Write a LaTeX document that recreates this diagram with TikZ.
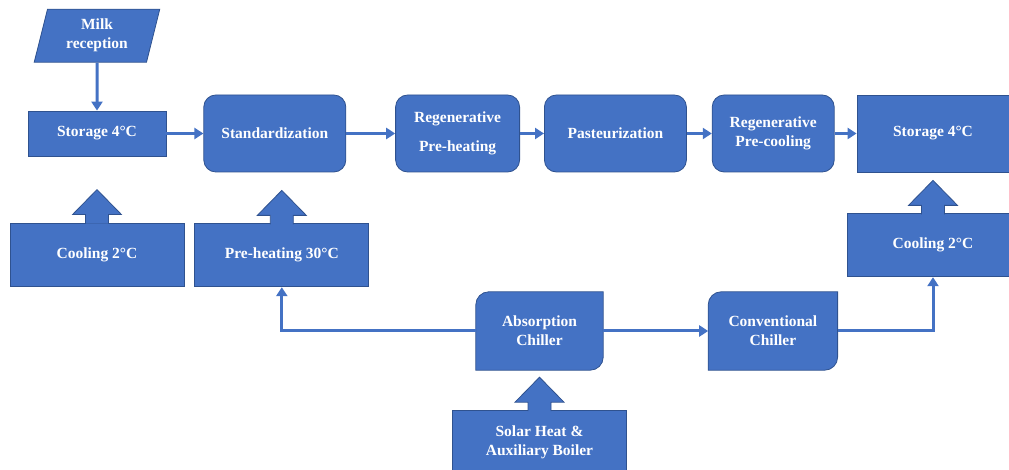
\documentclass[tikz,border=0pt]{standalone}
\usepackage{fontspec}
\setmainfont{Liberation Serif}
\usepackage{xcolor}
\usepackage{tikz}
\usetikzlibrary{shapes.geometric, arrows.meta, positioning, backgrounds}
\definecolor{boxblue}{HTML}{4472C4}
\definecolor{edgeblue}{HTML}{2F528F}
\tikzstyle{base} = [text=white, font=\bfseries\fontsize{15.5}{19}\selectfont, align=center, draw=edgeblue, line width=0.8pt, fill=boxblue]
\tikzstyle{store} = [base, rectangle, minimum height=45pt]
\tikzstyle{process} = [base, rectangle, rounded corners=12pt, minimum height=77pt]
\tikzstyle{supply} = [base, rectangle, minimum width=174pt, minimum height=63pt]
\tikzstyle{input} = [base, trapezium, trapezium left angle=77, trapezium right angle=103, trapezium stretches=true, minimum width=126pt, minimum height=53pt]
\tikzstyle{chiller} = [text=white, font=\bfseries\fontsize{15.5}{19}\selectfont, align=center, minimum height=78pt]
\tikzstyle{chillershape} = [draw=edgeblue, line width=0.8pt, fill=boxblue]
\tikzstyle{callout} = [draw=edgeblue, line width=0.8pt, fill=boxblue]
\tikzstyle{flow} = [draw=boxblue, line width=3pt, -{Triangle[width=11pt,length=9pt]}]

% block arrow on top of a supply box
\newcommand{\uparrowhead}[1]{%
  \filldraw[callout] ([xshift=-11.5pt,yshift=-1pt]#1.north) -- ++(0,9) -- ++(-13,0)
    -- ++(24.5,25) -- ++(24.5,-25) -- ++(-13,0) -- ++(0,-9);}
% box with two rounded corners
\newcommand{\chillerbox}[1]{%
  \filldraw[chillershape] (#1.south west) -- ([yshift=-13pt]#1.north west)
    arc[start angle=180, end angle=90, radius=13pt] -- (#1.north east)
    -- ([yshift=13pt]#1.south east) arc[start angle=0, end angle=-90, radius=13pt] -- cycle;}

\begin{document}
\begin{tikzpicture}[x=1pt, y=1pt]
        \clip (0,0) rectangle (1009,470);
        \node (storage1) [store, minimum width=138pt] at (97,336.5) {Storage 4°C};
        \node (milk) [input, above=48pt of storage1] {Milk\\reception};
        \node (standard) [process, minimum width=142pt, right=37pt of storage1] {Standardization};
        \node (regen1) [process, minimum width=124pt, right=49pt of standard] {Regenerative\\[10pt]Pre-heating};
        \node (past) [process, minimum width=142pt, right=24pt of regen1] {Pasteurization};
        \node (regen2) [process, minimum width=122pt, right=25pt of past] {Regenerative\\Pre-cooling};
        \node (storage2) [store, minimum width=152pt, minimum height=77pt, right=22pt of regen2] {Storage 4°C};

        \node (cool1) [supply] at (97,215.5) {Cooling 2°C};
        \node (preheat) [supply, below=51pt of standard, xshift=7pt] {Pre-heating 30°C};
        \node (cool2) [supply, minimum width=172pt, below=41pt of storage2] {Cooling 2°C};

        \node (absorb) [chiller, minimum width=127pt] at (539.5,139) {Absorption\\Chiller};
        \node (conv) [chiller, minimum width=129pt, right=105pt of absorb] {Conventional\\Chiller};
        \node (solar) [supply, below=40pt of absorb] {Solar Heat \&\\Auxiliary Boiler};

        \begin{scope}[on background layer]
            \chillerbox{absorb}
            \chillerbox{conv}
        \end{scope}

        \uparrowhead{cool1}
        \uparrowhead{preheat}
        \uparrowhead{cool2}
        \uparrowhead{solar}

        \draw [flow] (milk) -- (storage1);
        \draw [flow] (storage1) -- (standard);
        \draw [flow] (standard) -- (regen1);
        \draw [flow] (regen1) -- (past);
        \draw [flow] (past) -- (regen2);
        \draw [flow] (regen2) -- (storage2);
        \draw [flow] (absorb.west) -| (preheat.south);
        \draw [flow] (absorb.east) -- (conv.west);
        \draw [flow] (conv.east) -| (cool2.south);
    \end{tikzpicture}
\end{document}
